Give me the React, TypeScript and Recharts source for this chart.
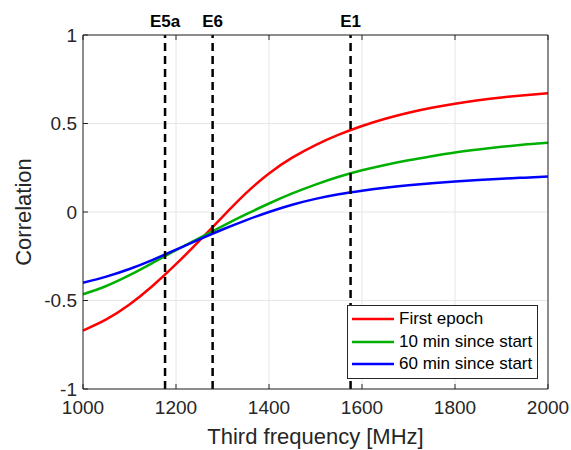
import { LineChart, Line, XAxis, YAxis, CartesianGrid, ReferenceLine, Legend } from 'recharts';

const FONT = '"Liberation Sans", Arial, Helvetica, sans-serif';

// Third frequency [MHz]
const frequencies = [
  1000, 1050, 1100, 1150, 1200, 1250, 1300, 1350, 1400, 1450, 1500,
  1550, 1600, 1650, 1700, 1750, 1800, 1850, 1900, 1950, 2000,
];

// Correlation values
const firstEpoch = [
  -0.67, -0.607, -0.523, -0.417, -0.295, -0.163, -0.027, 0.105, 0.218, 0.307, 0.378,
  0.437, 0.486, 0.527, 0.561, 0.589, 0.612, 0.631, 0.647, 0.66, 0.671,
];
const tenMinSinceStart = [
  -0.465, -0.418, -0.357, -0.287, -0.216, -0.148, -0.08, -0.014, 0.048, 0.105, 0.155,
  0.199, 0.236, 0.266, 0.292, 0.315, 0.336, 0.353, 0.368, 0.381, 0.392,
];
const sixtyMinSinceStart = [
  -0.4, -0.365, -0.322, -0.27, -0.213, -0.155, -0.099, -0.047, 0.0, 0.041, 0.074,
  0.1, 0.12, 0.137, 0.151, 0.163, 0.173, 0.181, 0.188, 0.194, 0.2,
];

const seriesNames = ['First epoch', '10 min since start', '60 min since start'];
const seriesColors = ['#ff0000', '#00b000', '#0000ff'];

// Galileo signals
const signalNames = ['E5a', 'E6', 'E1'];
const signalFrequencies = [1176.45, 1278.75, 1575.42];

const xTicks = [1000, 1200, 1400, 1600, 1800, 2000];
const yTicks = [-1, -0.5, 0, 0.5, 1];

const rows = frequencies.map((f, i) => ({
  freq: f,
  first: firstEpoch[i],
  ten: tenMinSinceStart[i],
  sixty: sixtyMinSinceStart[i],
}));
const seriesKeys = ['first', 'ten', 'sixty'];

function LegendBox() {
  return (
    <div
      style={{
        boxSizing: 'border-box',
        width: 191,
        border: '1px solid #262626',
        background: '#fff',
        padding: '2px 0 2px 4px',
        fontFamily: FONT,
        fontSize: 17,
        color: '#000',
      }}
    >
      {seriesNames.map((name, i) => (
        <div key={name} style={{ display: 'flex', alignItems: 'center', height: 22.5 }}>
          <svg width={42} height={4} style={{ marginRight: 5 }}>
            <line x1={0} y1={2} x2={42} y2={2} stroke={seriesColors[i]} strokeWidth={2.5} />
          </svg>
          <span>{name}</span>
        </div>
      ))}
    </div>
  );
}

const xTitle = ({ viewBox }: any) => (
  <text
    x={viewBox.x + viewBox.width / 2}
    y={viewBox.y + 55}
    textAnchor="middle"
    fontSize={22}
    fill="#262626"
    fontFamily={FONT}
  >
    Third frequency [MHz]
  </text>
);

const yTitle = ({ viewBox }: any) => {
  const cx = viewBox.x + 31;
  const cy = viewBox.y + viewBox.height / 2;
  return (
    <text
      x={cx}
      y={cy}
      textAnchor="middle"
      fontSize={22}
      fill="#262626"
      fontFamily={FONT}
      transform={`rotate(-90, ${cx}, ${cy})`}
    >
      Correlation
    </text>
  );
};

export default function App() {
  return (
    <div style={{ position: 'absolute', left: 0, top: 0, background: '#fff' }}>
      <LineChart
        width={571}
        height={450}
        data={rows}
        margin={{ top: 34, right: 22, bottom: 0, left: 0 }}
        style={{ fontFamily: FONT }}
      >
        <CartesianGrid stroke="#e6e6e6" />
        <XAxis
          dataKey="freq"
          type="number"
          domain={[1000, 2000]}
          ticks={xTicks}
          interval={0}
          height={61}
          tickSize={-5}
          tickMargin={17}
          stroke="#262626"
          tick={{ fill: '#262626', fontSize: 19 }}
          label={xTitle}
        />
        <XAxis
          xAxisId="top"
          orientation="top"
          dataKey="freq"
          type="number"
          domain={[1000, 2000]}
          ticks={xTicks}
          interval={0}
          height={1}
          tickSize={-5}
          tickFormatter={() => ''}
          stroke="#262626"
        />
        <YAxis
          type="number"
          domain={[-1, 1]}
          ticks={yTicks}
          interval={0}
          width={83}
          tickSize={-5}
          tickMargin={11}
          stroke="#262626"
          tick={{ fill: '#262626', fontSize: 19 }}
          label={yTitle}
        />
        <YAxis
          yAxisId="right"
          orientation="right"
          type="number"
          domain={[-1, 1]}
          ticks={yTicks}
          interval={0}
          width={1}
          tickSize={-5}
          tickFormatter={() => ''}
          stroke="#262626"
        />
        {seriesKeys.map((key, i) => (
          <Line
            key={key}
            type="natural"
            dataKey={key}
            name={seriesNames[i]}
            stroke={seriesColors[i]}
            strokeWidth={2.5}
            dot={false}
            activeDot={false}
            isAnimationActive={false}
          />
        ))}
        {signalFrequencies.map((f, i) => (
          <ReferenceLine
            key={signalNames[i]}
            x={f}
            stroke="#000"
            strokeWidth={2.5}
            strokeDasharray="8 5"
            label={{
              value: signalNames[i],
              position: 'top',
              offset: 8,
              fontSize: 17,
              fontWeight: 'bold',
              fill: '#000',
            }}
          />
        ))}
        <Legend
          content={<LegendBox />}
          layout="vertical"
          align="center"
          verticalAlign="middle"
          wrapperStyle={{ left: 347, top: 305, width: 191 }}
        />
      </LineChart>
    </div>
  );
}
